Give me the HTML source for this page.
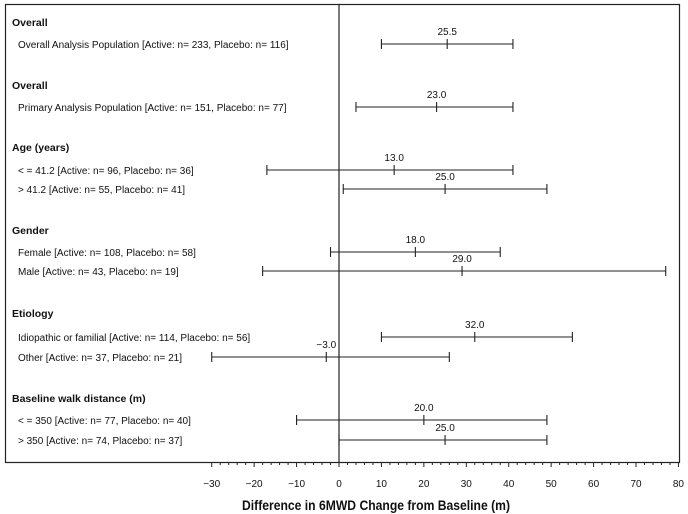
<!DOCTYPE html>
<html><head><meta charset="utf-8"><style>
body{margin:0;background:#fff;}
svg{display:block;font-family:"Liberation Sans",Arial,sans-serif;}
</style></head><body>
<svg width="688" height="514">
<rect x="5.5" y="4.5" width="674" height="458" fill="none" stroke="#222" stroke-width="1.2"/>
<g id="labels"></g><g id="marks"></g><g id="axis"></g>
<text x="242" y="510" font-size="14" font-weight="bold" fill="#111" textLength="268" lengthAdjust="spacingAndGlyphs">Difference in 6MWD Change from Baseline (m)</text>
</svg>
<script>
const headers=["Overall","Overall","Age (years)","Gender","Etiology","Baseline walk distance (m)"];
const headerY=[22,85,147,230,313,398];
const rowLabels=["Overall Analysis Population [Active: n= 233, Placebo: n= 116]","Primary Analysis Population [Active: n= 151, Placebo: n= 77]","< = 41.2 [Active: n= 96, Placebo: n= 36]","> 41.2 [Active: n= 55, Placebo: n= 41]","Female [Active: n= 108, Placebo: n= 58]","Male [Active: n= 43, Placebo: n= 19]","Idiopathic or familial [Active: n= 114, Placebo: n= 56]","Other [Active: n= 37, Placebo: n= 21]","< = 350 [Active: n= 77, Placebo: n= 40]","> 350 [Active: n= 74, Placebo: n= 37]"];
const rowY=[44,107,170,189,252,271,337,357,420,440];
const estimates=[25.5,23.0,13.0,25.0,18.0,29.0,32.0,-3.0,20.0,25.0];
const lowers=[10,4,-17,1,-2,-18,10,-30,-10,0];
const uppers=[41,41,41,49,38,77,55,26,49,49];
const ticks=[-30,-20,-10,0,10,20,30,40,50,60,70,80];
const NS="http://www.w3.org/2000/svg";
const x=v=>339+v*4.243;
function mk(tag,attrs,parent,txt){const e=document.createElementNS(NS,tag);for(const k in attrs)e.setAttribute(k,attrs[k]);if(txt!==undefined)e.textContent=txt;parent.appendChild(e);return e;}
const L=document.getElementById('labels'),M=document.getElementById('marks'),A=document.getElementById('axis');
headers.forEach((h,i)=>{const t=mk('text',{x:12,y:headerY[i]+4,'font-size':10.5,'font-weight':'bold',fill:'#111'},L,h);

});
rowLabels.forEach((r,i)=>{const t=mk('text',{x:18,y:rowY[i]+4,'font-size':10,fill:'#111'},L,r);

});
const z=mk('line',{x1:x(0),x2:x(0),y1:4,y2:462,stroke:'#222','stroke-width':1.2},M);


estimates.forEach((e,i)=>{const y=rowY[i];const g=mk('g',{stroke:'#222','stroke-width':1.1},M);


mk('line',{x1:x(lowers[i]),x2:x(uppers[i]),y1:y,y2:y},g);
mk('line',{x1:x(lowers[i]),x2:x(lowers[i]),y1:y-5,y2:y+5},g);
mk('line',{x1:x(uppers[i]),x2:x(uppers[i]),y1:y-5,y2:y+5},g);
mk('line',{x1:x(e),x2:x(e),y1:y-5,y2:y+5},g);
const t=mk('text',{x:x(e),y:y-9,'text-anchor':'middle','font-size':10,fill:'#111'},M,(e<0?'\u2212':'')+Math.abs(e).toFixed(1));

});
for(let v=-30;v<=80;v+=2){const major=v%10===0;mk('line',{x1:x(v),x2:x(v),y1:462,y2:major?467:465,stroke:'#222','stroke-width':1},A);}
ticks.forEach(v=>{const t=mk('text',{x:x(v),y:487,'text-anchor':'middle','font-size':10,fill:'#111'},A,(v<0?'\u2212':'')+Math.abs(v));

});
</script>
</body></html>
